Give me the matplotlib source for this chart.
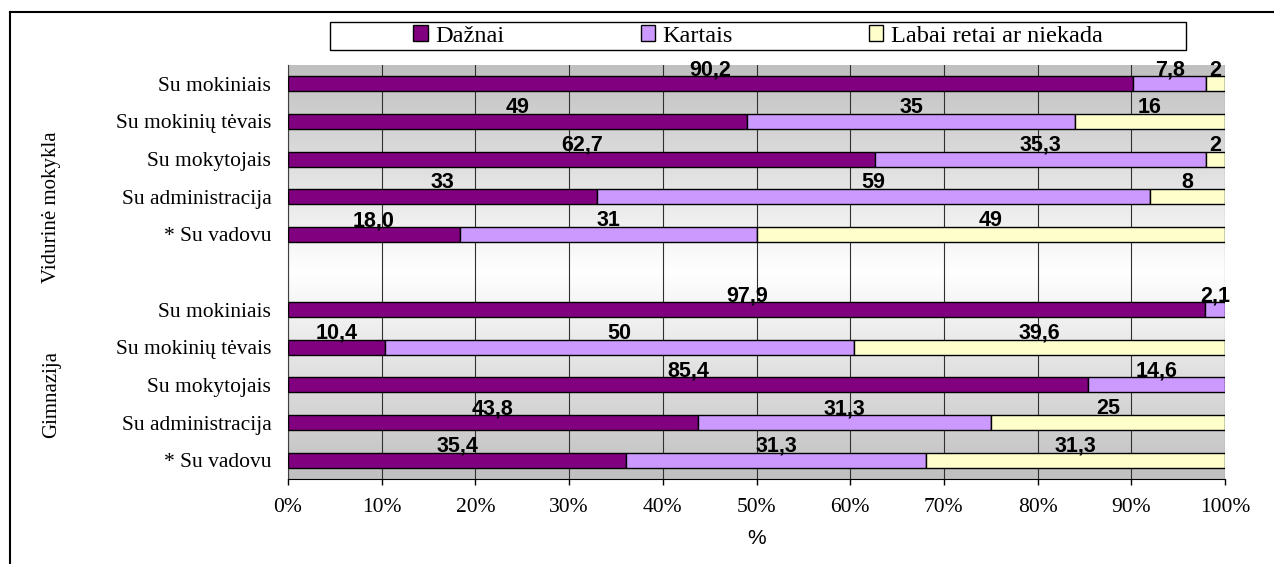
import numpy as np
import matplotlib.pyplot as plt
from matplotlib.colors import LinearSegmentedColormap
from matplotlib.patches import Rectangle, Patch
from matplotlib.lines import Line2D

categories = ["Su mokiniais", "Su mokinių tėvais", "Su mokytojais",
              "Su administracija", "* Su vadovu"]
groups = ["Vidurinė mokykla", "Gimnazija"]
series = ["Dažnai", "Kartais", "Labai retai ar niekada"]
colors = ["#800080", "#CC99FF", "#FFFFCC"]

# values as printed on the chart (decimal comma); empty = no answer
vid_daznai = ["90,2", "49", "62,7", "33", "18,0"]
vid_kartais = ["7,8", "35", "35,3", "59", "31"]
vid_retai = ["2", "16", "2", "8", "49"]

gim_daznai = ["97,9", "10,4", "85,4", "43,8", "35,4"]
gim_kartais = ["2,1", "50", "14,6", "31,3", "31,3"]
gim_retai = ["", "39,6", "", "25", "31,3"]


def num(s):
    return float(s.replace(",", ".")) if s else 0.0


# slot 5 is left empty between the two school types
rows = []
for i in range(5):
    rows.append((i, [vid_daznai[i], vid_kartais[i], vid_retai[i]]))
for i in range(5):
    rows.append((i + 6, [gim_daznai[i], gim_kartais[i], gim_retai[i]]))

W, H = 1274, 564
fig = plt.figure(figsize=(W / 100, H / 100), dpi=100)
ax = fig.add_axes([288 / W, 1 - 479 / H, (1225 - 288) / W, (479 - 65) / H])

# gray -> white -> gray background of the plot area
bg = LinearSegmentedColormap.from_list("bg", ["#ffffff", "#c0c0c0"])
grad = np.abs(np.linspace(-1, 1, 256))[:, None]
ax.imshow(grad, extent=[0, 100, 10.5, -0.5], aspect="auto", cmap=bg,
          vmin=0, vmax=1, zorder=0)

bar_h = 0.4
for y, labels in rows:
    vals = np.array([num(s) for s in labels])
    share = vals / vals.sum() * 100  # 100% stacked
    left = 0.0
    for k in range(3):
        if vals[k] > 0:
            ax.barh(y, share[k], left=left, height=bar_h, color=colors[k],
                    edgecolor="black", linewidth=1, zorder=3)
            ax.text(left + share[k] / 2, y - bar_h / 2 - 0.02, labels[k],
                    ha="center", va="baseline", fontsize=15.5,
                    fontweight="bold", family="Liberation Sans", zorder=4)
        left += share[k]

ax.set_xlim(0, 100)
ax.set_ylim(10.5, -0.5)
ax.set_xticks(range(0, 101, 10))
ax.set_xticklabels([f"{t}%" for t in range(0, 101, 10)],
                   family="Liberation Serif", fontsize=15.5)
ax.set_yticks([y for y, _ in rows])
ax.set_yticklabels(categories + categories, family="Liberation Serif",
                   fontsize=15.5)
ax.tick_params(axis="y", length=0, pad=12)
ax.tick_params(axis="x", direction="out", length=4, width=1, pad=10)
ax.grid(axis="x", color="#303030", linewidth=0.8)
ax.set_axisbelow(True)
for s in ["top", "right"]:
    ax.spines[s].set_visible(False)
ax.spines["left"].set_color("#404040")
ax.spines["bottom"].set_color("black")
ax.set_xlabel("%", family="Liberation Sans", fontsize=15, labelpad=8)

# school type labels on the left
fig.text(52 / W, 1 - 207 / H, groups[0], rotation=90, ha="center",
         va="center", family="Liberation Serif", fontsize=15)
fig.text(52 / W, 1 - 395 / H, groups[1], rotation=90, ha="center",
         va="center", family="Liberation Serif", fontsize=15)

# chart area border (top and left edges)
fig.add_artist(Line2D([10 / W, 10 / W], [0, 1 - 12 / H],
                      transform=fig.transFigure, color="black", lw=1.5))
fig.add_artist(Line2D([10 / W, 1], [1 - 12 / H, 1 - 12 / H],
                      transform=fig.transFigure, color="black", lw=1.5))

# legend box
fig.add_artist(Rectangle((330 / W, 1 - 50 / H), (1186 - 330) / W, 28 / H,
                         transform=fig.transFigure, facecolor="white",
                         edgecolor="black", lw=1))
handles = [Patch(facecolor=c, edgecolor="black") for c in colors]
fig.legend(handles, series, loc="center", bbox_to_anchor=(758 / W, 1 - 36 / H),
           ncol=3, frameon=False, columnspacing=5.6, handlelength=0.6,
           handleheight=0.6, handletextpad=0.3,
           prop={"family": "Liberation Serif", "size": 17.5})

fig.savefig("out.png", dpi=100)
